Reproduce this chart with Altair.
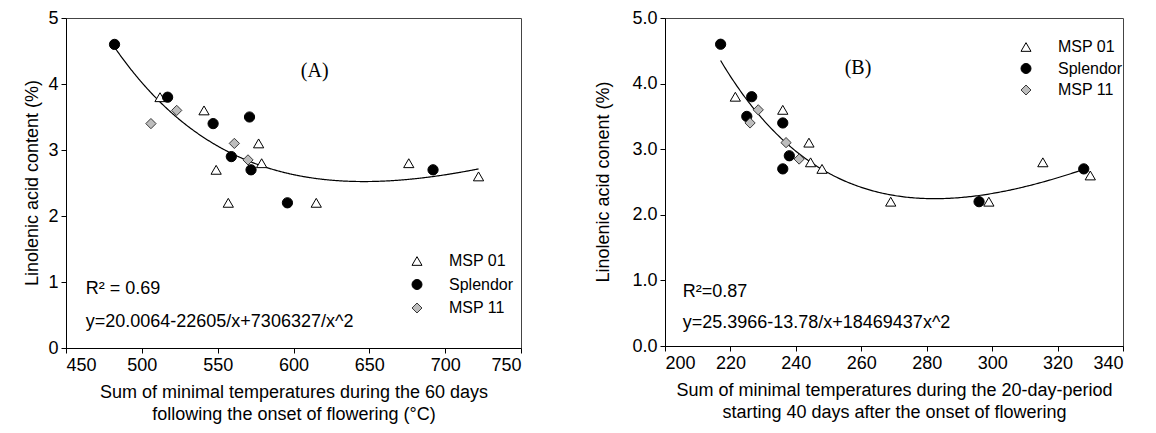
import altair as alt
import pandas as pd

# ---------------- data ----------------
varieties = ["MSP 01", "Splendor", "MSP 11"]
shapes = ["triangle-up", "circle", "diamond"]
fills = ["white", "black", "#bdbdbd"]
strokes = ["black", "black", "#3a3a3a"]

# Panel A: sum of minimal temperatures during 60 days after flowering
a_msp01_x = [512, 541, 577, 549, 579, 557, 615, 676, 722]
a_msp01_y = [3.8, 3.6, 3.1, 2.7, 2.8, 2.2, 2.2, 2.8, 2.6]
a_splendor_x = [482, 517, 547, 571, 559, 572, 596, 692]
a_splendor_y = [4.6, 3.8, 3.4, 3.5, 2.9, 2.7, 2.2, 2.7]
a_msp11_x = [506, 523, 561, 570]
a_msp11_y = [3.4, 3.6, 3.1, 2.85]

# Panel B: 20-day period starting 40 days after flowering
b_msp01_x = [221.5, 236, 244, 244.5, 248, 269, 299, 315.5, 330]
b_msp01_y = [3.8, 3.6, 3.1, 2.8, 2.7, 2.2, 2.2, 2.8, 2.6]
b_splendor_x = [217, 226.5, 225, 236, 238, 236, 296, 328]
b_splendor_y = [4.6, 3.8, 3.5, 3.4, 2.9, 2.7, 2.2, 2.7]
b_msp11_x = [228.5, 226, 237, 241]
b_msp11_y = [3.6, 3.4, 3.1, 2.85]

# fitted curves y = c0 - c1/x + c2/x^2
fit_a = [20.0064, 22605, 7306327]
fit_a_range = [482, 722]
fit_b = [25.3966, 13078, 1846943.7]
fit_b_range = [217, 328]

a_xticks = [450, 500, 550, 600, 650, 700, 750]
b_xticks = [200, 220, 240, 260, 280, 300, 320, 340]
yticks = [0, 1, 2, 3, 4, 5]

FONT = "Liberation Sans"


def points_frame(groups):
    rows = []
    for name, xs, ys in groups:
        for x, y in zip(xs, ys):
            rows.append({"x": x, "y": y, "variety": name})
    return pd.DataFrame(rows)


def panel(df, fit, fit_range, xdomain, xticks, xtitle, ytitle, ytitle_dx, yfmt,
          legend_xy, legend_rowpad, tag, tag_xy, r2, r2_xy, eq, eq_xy, width, height):
    xs = alt.Scale(domain=xdomain, nice=False, zero=False)
    ys = alt.Scale(domain=[0, 5], nice=False)
    xaxis = alt.Axis(values=xticks, title=xtitle, titlePadding=9, labelPadding=3,
                     titleLineHeight=22)
    yaxis = alt.Axis(values=yticks, format=yfmt, title=None, labelPadding=3)
    leg = alt.Legend(title=None, orient="none", legendX=legend_xy[0], legendY=legend_xy[1],
                     labelFont=FONT, labelFontSize=16, labelColor="black",
                     symbolSize=100, rowPadding=legend_rowpad, labelOffset=24, padding=0,
                     symbolStrokeWidth=1, labelLimit=300)
    pts = alt.Chart(df).mark_point(filled=True, opacity=1, size=105, strokeWidth=1).encode(
        x=alt.X("x:Q", scale=xs, axis=xaxis),
        y=alt.Y("y:Q", scale=ys, axis=yaxis),
        shape=alt.Shape("variety:N", scale=alt.Scale(domain=varieties, range=shapes), legend=leg),
        fill=alt.Fill("variety:N", scale=alt.Scale(domain=varieties, range=fills), legend=leg),
        stroke=alt.Stroke("variety:N", scale=alt.Scale(domain=varieties, range=strokes), legend=leg),
    )
    c0, c1, c2 = fit
    curve = alt.Chart(alt.sequence(fit_range[0], fit_range[1] + 0.5, 0.5, as_="x")).transform_calculate(
        y=f"{c0} - {c1}/datum.x + {c2}/(datum.x*datum.x)"
    ).mark_line(color="black", strokeWidth=1.2).encode(
        x=alt.X("x:Q", scale=xs),
        y=alt.Y("y:Q", scale=ys),
    )
    tag_t = alt.Chart().mark_text(font="Liberation Serif", fontSize=20, color="black").encode(
        x=alt.datum(tag_xy[0], scale=xs), y=alt.datum(tag_xy[1], scale=ys), text=alt.value(tag))
    r2_t = alt.Chart().mark_text(font=FONT, fontSize=18, color="black", align="left").encode(
        x=alt.datum(r2_xy[0], scale=xs), y=alt.datum(r2_xy[1], scale=ys), text=alt.value(r2))
    eq_t = alt.Chart().mark_text(font=FONT, fontSize=18, color="black", align="left").encode(
        x=alt.datum(eq_xy[0], scale=xs), y=alt.datum(eq_xy[1], scale=ys), text=alt.value(eq))
    # y-axis title, rotated
    ytitle_t = alt.Chart().mark_text(font=FONT, fontSize=18, color="black", angle=270,
                                     align="center", baseline="middle").encode(
        x=alt.value(ytitle_dx), y=alt.value(height / 2), text=alt.value(ytitle))
    return alt.layer(curve, pts, tag_t, r2_t, eq_t, ytitle_t).properties(width=width, height=height)


df_a = points_frame([("MSP 01", a_msp01_x, a_msp01_y),
                     ("Splendor", a_splendor_x, a_splendor_y),
                     ("MSP 11", a_msp11_x, a_msp11_y)])
df_b = points_frame([("MSP 01", b_msp01_x, b_msp01_y),
                     ("Splendor", b_splendor_x, b_splendor_y),
                     ("MSP 11", b_msp11_x, b_msp11_y)])

chart_a = panel(df_a, fit_a, fit_a_range, [450, 750], a_xticks,
                ["Sum of minimal temperatures during the 60 days",
                 "following the onset of flowering (°C)"],
                "Linolenic acid content (%)", -33, "d",
                (343, 235), 7.5, "(A)", (614, 4.2),
                "R² = 0.69", (463, 0.89),
                "y=20.0064-22605/x+7306327/x^2", (463, 0.39), 455, 330)

chart_b = panel(df_b, fit_b, fit_b_range, [200, 340], b_xticks,
                ["Sum of minimal temperatures during the 20-day-period",
                 "starting 40 days after the onset of flowering"],
                "Linolenic acid conent (%)", -61, ".1f",
                (353, 21), 5.5, "(B)", (259, 4.24),
                "R²=0.87", (205.4, 0.82),
                "y=25.3966-13.78/x+18469437x^2", (205.4, 0.35), 458, 328)

chart = alt.hconcat(chart_a, chart_b, spacing=72).resolve_scale(
    shape="independent", fill="independent", stroke="independent"
).resolve_legend(
    shape="independent", fill="independent", stroke="independent"
).properties(
    padding={"left": 15, "top": 0, "right": 0, "bottom": 0}
).configure_view(stroke="#444", strokeWidth=1).configure_axis(
    domainColor="black", tickColor="black", tickSize=5, grid=False,
    labelFont=FONT, labelFontSize=18, labelColor="black",
    titleFont=FONT, titleFontSize=18, titleFontWeight="normal", titleColor="black",
)

chart.save("out.html", embed_options={"renderer": "svg", "actions": False})
